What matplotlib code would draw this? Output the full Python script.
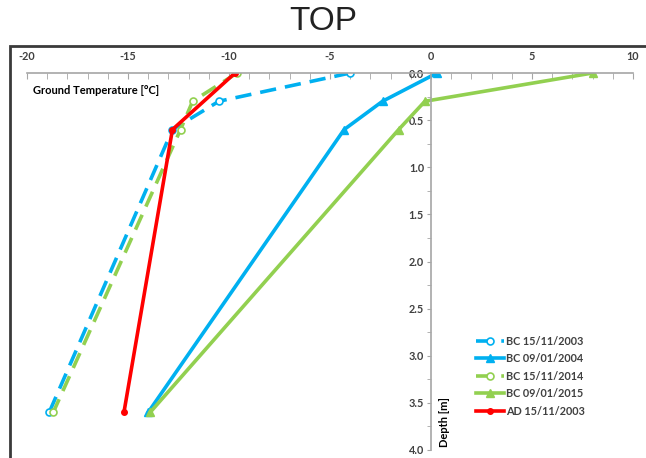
import matplotlib.pyplot as plt
from matplotlib.patches import Rectangle
from matplotlib.ticker import MultipleLocator, FormatStrFormatter

plt.rcParams['font.family'] = ['Lato', 'DejaVu Sans']
plt.rcParams['axes.unicode_minus'] = False

# depth of each reading [m]
depth = [0.0, 0.3, 0.6, 3.6]
depth_ad = [0.0, 0.6, 3.6]

# ground temperature [°C]
bc_2003 = [-4.0, -10.5, -12.8, -18.9]
bc_2004 = [0.3, -2.4, -4.3, -14.0]
bc_2014 = [-9.6, -11.8, -12.4, -18.7]
bc_2015 = [8.0, -0.3, -1.6, -13.9]
ad_2003 = [-9.7, -12.8, -15.2]

blue = '#00b0f0'
green = '#92d050'
red = '#ff0000'
axis_grey = '#a6a6a6'
text_grey = '#404040'

fig = plt.figure(figsize=(6.46, 4.58), dpi=100)
ax = fig.add_axes([27 / 646, 1 - 450 / 458, 606 / 646, 377 / 458])

ax.plot(bc_2003, depth, color=blue, lw=2.6, ls=(0, (4.5, 2.5)), marker='o', ms=5,
        mfc='white', mec=blue, mew=1.2, label='BC 15/11/2003')
ax.plot(bc_2004, depth, color=blue, lw=2.6, marker='^', ms=5.5, label='BC 09/01/2004')
ax.plot(bc_2014, depth, color=green, lw=2.6, ls=(0, (4.5, 2.5)), marker='o', ms=5,
        mfc='white', mec=green, mew=1.2, label='BC 15/11/2014')
ax.plot(bc_2015, depth, color=green, lw=2.6, marker='^', ms=5.5, label='BC 09/01/2015')
ax.plot(ad_2003, depth_ad, color=red, lw=2.6, marker='o', ms=4, label='AD 15/11/2003')

ax.set_xlim(-20, 10)
ax.set_ylim(4.0, 0.0)

# x axis on top, y axis crossing at 0 °C
ax.xaxis.tick_top()
ax.spines['bottom'].set_visible(False)
ax.spines['right'].set_visible(False)
ax.spines['left'].set_position(('data', 0))
for s in ('top', 'left'):
    ax.spines[s].set_color(axis_grey)
    ax.spines[s].set_linewidth(1.2)

ax.xaxis.set_major_locator(MultipleLocator(5))
ax.xaxis.set_minor_locator(MultipleLocator(1))
ax.yaxis.set_major_locator(MultipleLocator(0.5))
ax.yaxis.set_minor_locator(MultipleLocator(0.25))
ax.yaxis.set_major_formatter(FormatStrFormatter('%.1f'))
ax.tick_params(axis='x', which='both', direction='in', length=4, color=axis_grey,
               labelsize=7.8, labelcolor=text_grey, pad=8)
ax.tick_params(axis='y', which='both', direction='out', length=3, color=axis_grey,
               labelsize=7.8, labelcolor=text_grey, pad=2)
for lab in ax.get_xticklabels() + ax.get_yticklabels():
    lab.set_fontweight('bold')

fig.text(33 / 646, 1 - 91 / 458, 'Ground Temperature [°C]', fontsize=8,
         fontweight='bold', color='black', va='center')
ax.text(0.4, 3.97, 'Depth [m]', rotation=90, fontsize=8, fontweight='bold',
        color='black', ha='left', va='bottom')

leg = ax.legend(loc='upper left', bbox_to_anchor=(466 / 646, 1 - 326 / 458),
                bbox_transform=fig.transFigure, frameon=False, fontsize=7.8,
                handlelength=2.6, handletextpad=0.2, labelspacing=0.6)
for t in leg.get_texts():
    t.set_fontweight('bold')
    t.set_color(text_grey)

fig.text(0.5, 1 - 22 / 458, 'TOP', ha='center', va='center', fontsize=24,
         family='Liberation Sans', color='#222222')

# dark frame around the chart area
fig.add_artist(Rectangle((10 / 646, -0.05), 1.0, 1 - 46 / 458 + 0.05,
                         transform=fig.transFigure, fill=False,
                         edgecolor='#3a3a3a', lw=2))

fig.savefig('out.png', dpi=100)
